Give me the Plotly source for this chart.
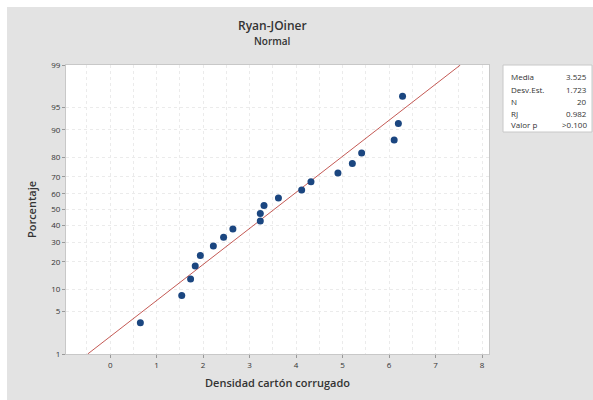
from statistics import NormalDist
import plotly.graph_objects as go

# ---- data ----
densidad = [0.65, 1.54, 1.73, 1.83, 1.94, 2.22, 2.44, 2.64, 3.23, 3.23,
            3.31, 3.62, 4.12, 4.32, 4.90, 5.21, 5.41, 6.11, 6.20, 6.29]
porcentaje = [3.4, 8.3, 13.2, 18.1, 23.0, 27.9, 32.8, 37.7, 42.6, 47.5,
              52.5, 57.4, 62.3, 67.2, 72.1, 77.0, 81.9, 86.8, 91.7, 96.6]
y_ticks = [1, 5, 10, 20, 30, 40, 50, 60, 70, 80, 90, 95, 99]
x_ticks = [0, 1, 2, 3, 4, 5, 6, 7, 8]
media = 3.525
desv = 1.723
stat_labels = ["Media", "Desv.Est.", "N", "RJ", "Valor p"]
stat_values = ["3.525", "1.723", "20", "0.982", ">0.100"]

nd = NormalDist()
def z(p):
    return nd.inv_cdf(p / 100.0)

W, H = 593, 400
L, R, T, B = 66, 489, 65, 354
def px(xp):
    return (xp - L) / (R - L)
def py(yp):
    return (B - yp) / (B - T)

FONT = "Open Sans"
fig = go.Figure()

# fitted line
zlo, zhi = z(1), z(99)
fig.add_trace(go.Scatter(
    x=[media + desv * zlo, media + desv * zhi], y=[zlo, zhi],
    mode="lines", line=dict(color="#c45a55", width=1), hoverinfo="skip",
    showlegend=False))

# points
fig.add_trace(go.Scatter(
    x=densidad, y=[z(p) for p in porcentaje], mode="markers",
    marker=dict(color="#1b4680", size=7, line=dict(width=0)),
    showlegend=False))

grid = "#ebebeb"
fig.update_xaxes(
    range=[-0.95, 8.15], tickvals=x_ticks, ticktext=[str(v) for v in x_ticks],
    showgrid=True, gridcolor=grid, griddash="dot", gridwidth=1,
    minor=dict(dtick=0.5, tick0=0, showgrid=True, gridcolor=grid, griddash="dot"),
    zeroline=False, showline=True, linecolor="#c8c8c8", linewidth=1, mirror=True,
    ticks="outside", ticklen=3, tickcolor="#999999",
    tickfont=dict(family=FONT, size=8, color="#333333"),
    title=dict(text="Densidad cartón corrugado", standoff=10,
               font=dict(family=FONT, size=11, color="#333333", weight=600)))
fig.update_yaxes(
    range=[zlo, zhi], tickvals=[z(v) for v in y_ticks],
    ticktext=[str(v) for v in y_ticks],
    showgrid=True, gridcolor=grid, griddash="dot", gridwidth=1,
    zeroline=False, showline=True, linecolor="#c8c8c8", linewidth=1, mirror=True,
    ticks="outside", ticklen=3, tickcolor="#999999",
    tickfont=dict(family=FONT, size=8, color="#333333"),
    title=dict(text="Porcentaje", standoff=12,
               font=dict(family=FONT, size=11, color="#333333", weight=600)))

shapes = [
    # white strips at top and left of the picture
    dict(type="rect", xref="paper", yref="paper", x0=px(0), x1=px(W), y0=py(0), y1=py(7),
         fillcolor="white", line=dict(width=0), layer="below"),
    dict(type="rect", xref="paper", yref="paper", x0=px(0), x1=px(7), y0=py(0), y1=py(H),
         fillcolor="white", line=dict(width=0), layer="below"),
    # statistics box
    dict(type="rect", xref="paper", yref="paper", x0=px(503), x1=px(592), y0=py(65), y1=py(132),
         fillcolor="white", line=dict(color="#c8c8c8", width=1)),
]

ann = [
    dict(text="Ryan-JOiner", x=px(272), y=py(26), xref="paper", yref="paper",
         showarrow=False, font=dict(family=FONT, size=12, color="#333333", weight=600),
         xanchor="center", yanchor="middle"),
    dict(text="Normal", x=px(272), y=py(41), xref="paper", yref="paper",
         showarrow=False, font=dict(family=FONT, size=10, color="#333333", weight=600),
         xanchor="center", yanchor="middle"),
]
rows_y = [77, 89, 101, 113, 125]
for lab, val, yy in zip(stat_labels, stat_values, rows_y):
    ann.append(dict(text=lab, x=px(509), y=py(yy), xref="paper", yref="paper",
                    showarrow=False, xanchor="left", yanchor="middle",
                    font=dict(family=FONT, size=8, color="#333333")))
    ann.append(dict(text=val, x=px(589), y=py(yy), xref="paper", yref="paper",
                    showarrow=False, xanchor="right", yanchor="middle",
                    font=dict(family=FONT, size=8, color="#333333")))

fig.update_layout(
    width=W, height=H, margin=dict(l=L, r=W - R, t=T, b=H - B),
    paper_bgcolor="#e3e3e3", plot_bgcolor="white",
    shapes=shapes, annotations=ann, showlegend=False,
    font=dict(family=FONT))

fig.write_html("out.html")
